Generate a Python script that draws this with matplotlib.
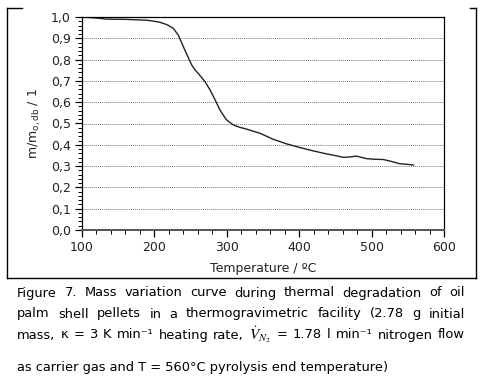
import matplotlib
matplotlib.use("Agg")
import matplotlib.pyplot as plt
from matplotlib.lines import Line2D
from matplotlib.ticker import MultipleLocator, FuncFormatter

# TGA curve (temperature in degC, normalised mass)
temperature = [100, 120, 134, 160, 189, 200, 208, 218, 226, 233, 242, 251.5,
               256, 260.6, 270, 277, 284, 290.6, 296, 300, 309, 318, 327, 346,
               364, 383, 401, 420, 438, 452, 461, 470, 479, 493, 505, 516,
               525, 539, 550, 558]
mass = [1.0, 0.995, 0.99, 0.989, 0.985, 0.98, 0.975, 0.963, 0.947, 0.915,
        0.845, 0.775, 0.752, 0.735, 0.696, 0.657, 0.61, 0.563, 0.535, 0.516,
        0.493, 0.482, 0.474, 0.454, 0.426, 0.404, 0.387, 0.371, 0.357, 0.348,
        0.341, 0.343, 0.347, 0.335, 0.332, 0.331, 0.324, 0.311, 0.308, 0.305]

caption_lines = [
    "Figure 7. Mass variation curve during thermal degradation of oil",
    "palm shell pellets in a thermogravimetric facility (2.78 g initial",
    "mass, \u03ba = 3 K min\u207b\u00b9 heating rate, $\\dot{V}_{N_2}$ = 1.78 l min\u207b\u00b9 nitrogen flow",
    "as carrier gas and T = 560\u00b0C pyrolysis end temperature)",
]
caption_justify = [True, True, True, False]

W, H = 480, 379
fig = plt.figure(figsize=(W / 100, H / 100), dpi=100)
ax = fig.add_axes([82 / W, 1 - 230 / H, (444 - 82) / W, (230 - 17) / H])

ax.plot(temperature, mass, color="#222222", lw=1.0)
ax.set_xlim(100, 600)
ax.set_ylim(0, 1.0)
ax.xaxis.set_major_locator(MultipleLocator(100))
ax.xaxis.set_minor_locator(MultipleLocator(20))
ax.yaxis.set_major_locator(MultipleLocator(0.1))
ax.yaxis.set_minor_locator(MultipleLocator(0.02))
ax.yaxis.set_major_formatter(FuncFormatter(lambda v, p: f"{v:.1f}".replace(".", ",")))
ax.tick_params(which="major", length=5, width=0.9, labelsize=9, pad=3,
               labelcolor="#222222")
ax.tick_params(which="minor", length=3, width=0.7)
for s in ax.spines.values():
    s.set_linewidth(0.9)
ax.spines["bottom"].set_linewidth(1.4)
ax.spines["bottom"].set_color("#555555")
for y in [0.1, 0.2, 0.3, 0.4, 0.5, 0.6, 0.7, 0.8, 0.9]:
    ax.axhline(y, color="#777777", lw=0.7, ls=(0, (1, 1)), zorder=0)

ax.set_xlabel("Temperature / \u00baC", fontsize=9, labelpad=6, color="#222222")
ax.set_ylabel(r"m/m$_\mathregular{o,db}$ / 1", fontsize=9, labelpad=6,
              color="#222222")

# frame around the chart
frame = [([7, 7], [8, 278]), ([7, 476], [278, 278]), ([476, 476], [8, 278]),
         ([7, 22], [8, 8]), ([470, 476], [8, 8])]
for xs, ys in frame:
    fig.add_artist(Line2D([x / W for x in xs], [1 - y / H for y in ys],
                          color="black", lw=1.0))

# justified caption
renderer = fig.canvas.get_renderer()
left, right = 17, 465
line_y = [293, 314, 335, 368]
fs = 9.4
for text, just, yy in zip(caption_lines, caption_justify, line_y):
    if not just:
        fig.text(left / W, 1 - yy / H, text, fontsize=fs, va="center", ha="left")
        continue
    words = text.split(" ")
    arts = []
    widths = []
    for w in words:
        size = 11 if w.startswith("$") else fs
        t = fig.text(0, 1 - yy / H, w, fontsize=size, va="center", ha="left",
                     math_fontfamily="stix")
        arts.append(t)
        widths.append(t.get_window_extent(renderer).width)
    gap = (right - left - sum(widths)) / (len(words) - 1)
    x = left
    for t, wd in zip(arts, widths):
        t.set_x(x / W)
        x += wd + gap

fig.savefig("out.png", dpi=100)
